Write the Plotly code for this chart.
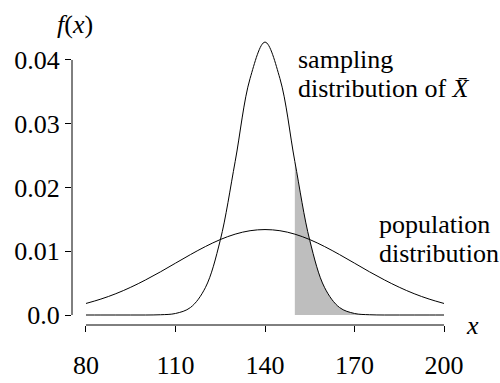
import plotly.graph_objects as go

# x grid
x_vals = [80, 85, 90, 95, 100, 105, 110, 115, 120, 125, 130, 135, 140,
          145, 150, 155, 160, 165, 170, 175, 180, 185, 190, 195, 200]

population = [0.00181, 0.0025, 0.00334, 0.00435, 0.00551, 0.00678, 0.00813,
              0.00947, 0.01073, 0.01183, 0.01268, 0.01322, 0.0134,
              0.01322, 0.01268, 0.01183, 0.01073, 0.00947, 0.00813, 0.00678,
              0.00551, 0.00435, 0.00334, 0.0025, 0.00181]

sampling = [0.0, 0.0, 0.0, 0.0, 0.0, 0.00004, 0.00024, 0.00117, 0.00428,
            0.01172, 0.02407, 0.0371, 0.0428,
            0.0371, 0.02407, 0.01172, 0.00428, 0.00117, 0.00024, 0.00004,
            0.0, 0.0, 0.0, 0.0, 0.0]

shade_from = 150
x_ticks = [80, 110, 140, 170, 200]
y_ticks = [0.0, 0.01, 0.02, 0.03, 0.04]
y_tick_text = ["0.0", "0.01", "0.02", "0.03", "0.04"]

FONT = "Liberation Serif, Times New Roman, serif"
FS = 26

shade_x = [x for x in x_vals if x >= shade_from]
shade_y = [y for x, y in zip(x_vals, sampling) if x >= shade_from]

fig = go.Figure()
fig.add_trace(go.Scatter(x=shade_x, y=shade_y, mode="lines", fill="tozeroy",
                         fillcolor="#bebebe", line=dict(width=0, shape="spline", color="#bebebe"),
                         hoverinfo="skip", showlegend=False))
fig.add_trace(go.Scatter(x=x_vals, y=population, mode="lines",
                         line=dict(color="black", width=1, shape="spline"),
                         showlegend=False))
fig.add_trace(go.Scatter(x=x_vals, y=sampling, mode="lines",
                         line=dict(color="black", width=1, shape="spline"),
                         showlegend=False))

# pixel helpers for annotation placement (plot area: l=72, r=444, t=30, b=325)
def px_x(p):
    return (p - 72) / 372.0

def px_y(p):
    return (325 - p) / 295.0

def label(text, px, py, xanchor="left"):
    return dict(text=text, xref="paper", yref="paper", x=px_x(px), y=px_y(py),
                xanchor=xanchor, yanchor="middle", align="left", showarrow=False,
                font=dict(family=FONT, size=FS))

fig.update_layout(
    width=500, height=383,
    margin=dict(l=72, r=56, t=30, b=58, autoexpand=False),
    paper_bgcolor="white", plot_bgcolor="white",
    font=dict(family=FONT, size=FS, color="black"),
    hovermode=False,
    xaxis=dict(range=[75.31, 200], tickvals=x_ticks, ticks="outside", ticklen=6,
               tickcolor="black", showline=False, showgrid=False, zeroline=False,
               automargin=False, ticklabelstandoff=11,
               tickfont=dict(family=FONT, size=FS)),
    yaxis=dict(range=[-0.001569, 0.04470], tickvals=y_ticks, ticktext=y_tick_text,
               ticks="outside", ticklen=6, tickcolor="black", showline=False,
               showgrid=False, zeroline=False, automargin=False,
               tickfont=dict(family=FONT, size=FS)),
    shapes=[
        dict(type="line", xref="paper", yref="y", x0=0, x1=0, y0=0, y1=0.04,
             line=dict(color="black", width=1)),
        dict(type="line", xref="x", yref="paper", x0=80, x1=200, y0=0, y1=0,
             line=dict(color="black", width=1)),
    ],
    annotations=[
        label("<i>f</i>(<i>x</i>)", 75, 24, xanchor="center"),
        label("<i>x</i>", 472, 325, xanchor="center"),
        label("sampling", 296, 60),
        label("distribution of <i>X\u0304</i>", 296, 89),
        label("population", 377, 224),
        label("distribution", 377, 253),
    ],
)

fig.write_html("out.html", config={"displayModeBar": False},
               post_script="document.body.style.margin='0';")
